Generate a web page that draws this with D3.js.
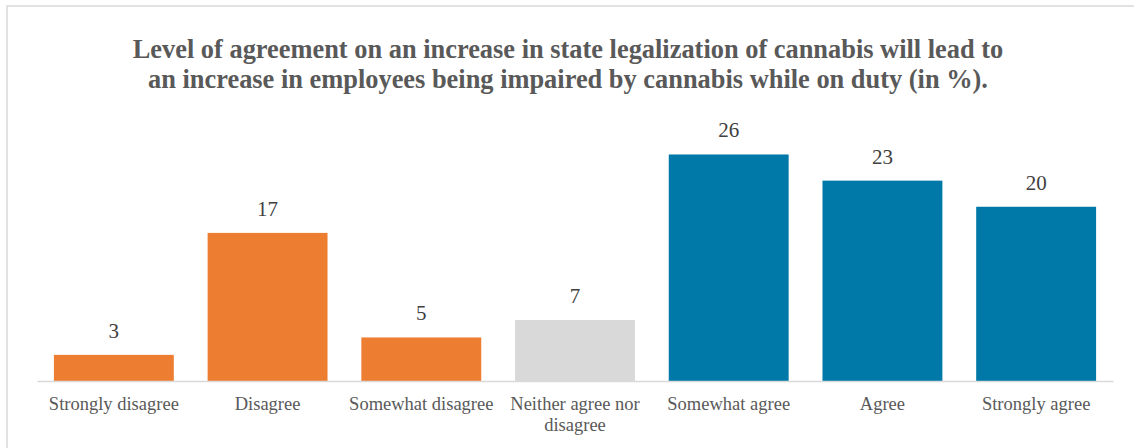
<!DOCTYPE html>
<html>
<head>
<meta charset="utf-8">
<script src="https://cdn.jsdelivr.net/npm/d3@7"></script>
<style>
  html, body { margin: 0; padding: 0; background: #fff; }
  svg { display: block; }
  svg text { font-family: "Liberation Serif", "Times New Roman", Times, serif; }
</style>
</head>
<body>
<svg id="chart" width="1134" height="448"></svg>
<script>
// Survey responses (percent of respondents)
const categories = [
  "Strongly disagree", "Disagree", "Somewhat disagree",
  "Neither agree nor disagree", "Somewhat agree", "Agree", "Strongly agree"
];
const values = [3, 17, 5, 7, 26, 23, 20];
// Label lines for each category (wrapped where the name is long)
const categoryLines = [
  ["Strongly disagree"], ["Disagree"], ["Somewhat disagree"],
  ["Neither agree nor", "disagree"], ["Somewhat agree"], ["Agree"], ["Strongly agree"]
];
const barColors = ["#ED7D31", "#ED7D31", "#ED7D31", "#D9D9D9", "#0079A8", "#0079A8", "#0079A8"];
const titleLines = [
  "Level of agreement on an increase in state legalization of cannabis will lead to",
  "an increase in employees being impaired by cannabis while on duty (in %)."
];

const svg = d3.select("#chart");

// Chart frame
svg.append("rect")
  .attr("x", 7).attr("y", 6)
  .attr("width", 1140).attr("height", 460)
  .attr("fill", "none")
  .attr("stroke", "#D9D9D9")
  .attr("stroke-width", 1.5);

// Title
svg.append("g")
  .selectAll("text")
  .data(titleLines)
  .join("text")
  .attr("x", 568)
  .attr("y", (d, i) => 58 + i * 30)
  .attr("text-anchor", "middle")
  .attr("font-weight", "bold")
  .attr("font-size", 26.4)
  .attr("fill", "#595959")
  .text(d => d);

const plotLeft = 37, plotRight = 1113, baseY = 381, topY = 124;

const x = d3.scaleBand()
  .domain(categories)
  .range([plotLeft, plotRight])
  .paddingInner(0.22)
  .paddingOuter(0.11);

const y = d3.scaleLinear()
  .domain([0, 29.5])
  .range([baseY, topY]);

const data = categories.map((c, i) => ({ c, v: values[i], color: barColors[i], lines: categoryLines[i] }));

// Bars
svg.append("g")
  .selectAll("rect")
  .data(data)
  .join("rect")
  .attr("x", d => x(d.c))
  .attr("y", d => y(d.v))
  .attr("width", x.bandwidth())
  .attr("height", d => y(0) - y(d.v))
  .attr("fill", d => d.color);

// Value labels
svg.append("g")
  .selectAll("text")
  .data(data)
  .join("text")
  .attr("x", d => x(d.c) + x.bandwidth() / 2)
  .attr("y", d => y(d.v) - 17)
  .attr("text-anchor", "middle")
  .attr("font-size", 21)
  .attr("fill", "#404040")
  .text(d => d.v);

// Category axis
const xAxis = svg.append("g")
  .attr("transform", `translate(0,${baseY})`)
  .call(d3.axisBottom(x).tickSize(0).tickFormat(""));
xAxis.select(".domain")
  .attr("stroke", "#D9D9D9")
  .attr("stroke-width", 1.5);

xAxis.selectAll(".tick").each(function(d, i) {
  const t = d3.select(this).append("text")
    .attr("text-anchor", "middle")
    .attr("font-size", 18.5)
    .attr("fill", "#595959");
  categoryLines[i].forEach((line, j) => {
    t.append("tspan")
      .attr("x", 0)
      .attr("y", 29 + j * 21)
      .text(line);
  });
});
</script>
</body>
</html>
